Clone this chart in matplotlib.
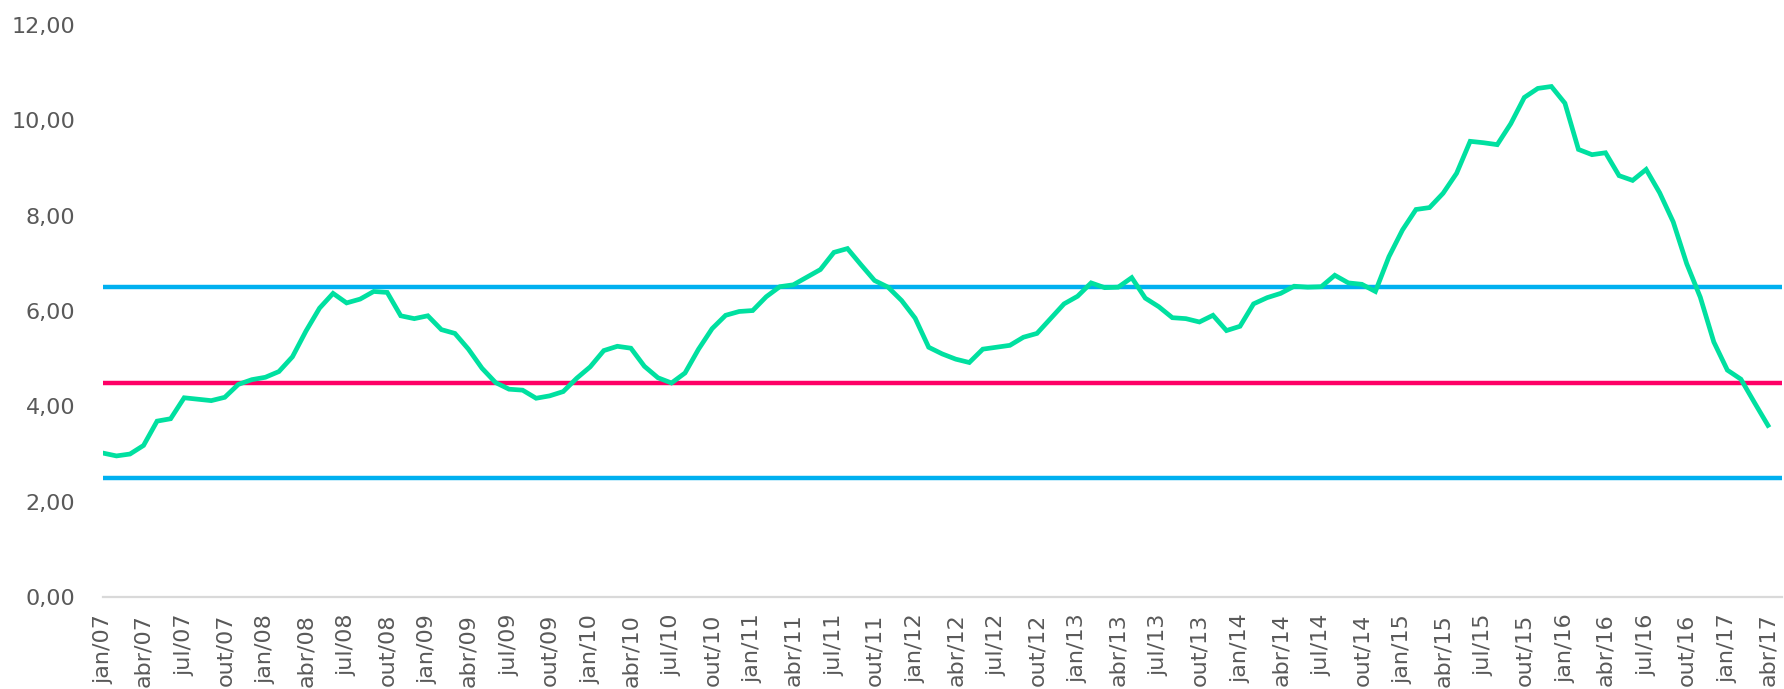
import numpy as np
import matplotlib.pyplot as plt

# 12-month inflation, monthly points (jan/07 .. abr/17)
ipca = [3.02, 2.96, 3.00, 3.18, 3.69, 3.74, 4.18, 4.15, 4.12, 4.19, 4.46,
        4.56, 4.61, 4.73, 5.04, 5.58, 6.06, 6.37, 6.17, 6.25, 6.41, 6.39, 5.90,
        5.84, 5.90, 5.61, 5.53, 5.20, 4.80, 4.50, 4.36, 4.34, 4.17, 4.22, 4.31,
        4.59, 4.83, 5.17, 5.26, 5.22, 4.84, 4.60, 4.49, 4.70, 5.20, 5.63, 5.91,
        5.99, 6.01, 6.30, 6.51, 6.55, 6.71, 6.87, 7.23, 7.31, 6.97, 6.64, 6.50,
        6.22, 5.85, 5.24, 5.10, 4.99, 4.92, 5.20, 5.24, 5.28, 5.45, 5.53, 5.84,
        6.15, 6.31, 6.59, 6.49, 6.50, 6.70, 6.27, 6.09, 5.86, 5.84, 5.77, 5.91,
        5.59, 5.68, 6.15, 6.28, 6.37, 6.52, 6.50, 6.51, 6.75, 6.59, 6.56, 6.41,
        7.14, 7.70, 8.13, 8.17, 8.47, 8.89, 9.56, 9.53, 9.49, 9.93, 10.48, 10.67,
        10.71, 10.36, 9.39, 9.28, 9.32, 8.84, 8.74, 8.97, 8.48, 7.87, 6.99, 6.29,
        5.35, 4.76, 4.57, 4.08, 3.60]
meta = 4.5
teto = 6.5
piso = 2.5

months = ['jan', 'fev', 'mar', 'abr', 'mai', 'jun',
          'jul', 'ago', 'set', 'out', 'nov', 'dez']
start_year = 7
yticks = [0, 2, 4, 6, 8, 10, 12]
ytick_labels = ['0,00', '2,00', '4,00', '6,00', '8,00', '10,00', '12,00']

n = len(ipca)
x = np.arange(n)
xt = np.arange(0, n, 3)
xt_labels = ['%s/%02d' % (months[i % 12], start_year + i // 12) for i in xt]

txt = '#595959'
fig = plt.figure(figsize=(17.84, 6.89), dpi=100)
ax = fig.add_axes([0.0577, 0.1335, 0.9409, 0.8302])

span = np.array([0, n])
ax.plot(span, [teto, teto], color='#00B0F0', lw=3.2, solid_capstyle='butt')
ax.plot(span, [piso, piso], color='#00B0F0', lw=3.2, solid_capstyle='butt')
ax.plot(span, [meta, meta], color='#FF0066', lw=3.2, solid_capstyle='butt')
ax.plot(x, ipca, color='#00E0A0', lw=3.4, solid_joinstyle='miter')

ax.set_xlim(0, n)
ax.set_ylim(0, 12)
ax.set_yticks(yticks)
ax.set_yticklabels(ytick_labels)
ax.set_xticks(xt)
ax.set_xticklabels(xt_labels, rotation=90)
ax.tick_params(axis='y', length=0, pad=20, labelsize=16, labelcolor=txt)
ax.tick_params(axis='x', length=0, pad=12, labelsize=16, labelcolor=txt)

for s in ['top', 'right', 'left']:
    ax.spines[s].set_visible(False)
ax.spines['bottom'].set_color('#D9D9D9')
ax.spines['bottom'].set_linewidth(1.6)
ax.spines['bottom'].set_zorder(0)

fig.savefig('out.png', dpi=100)
